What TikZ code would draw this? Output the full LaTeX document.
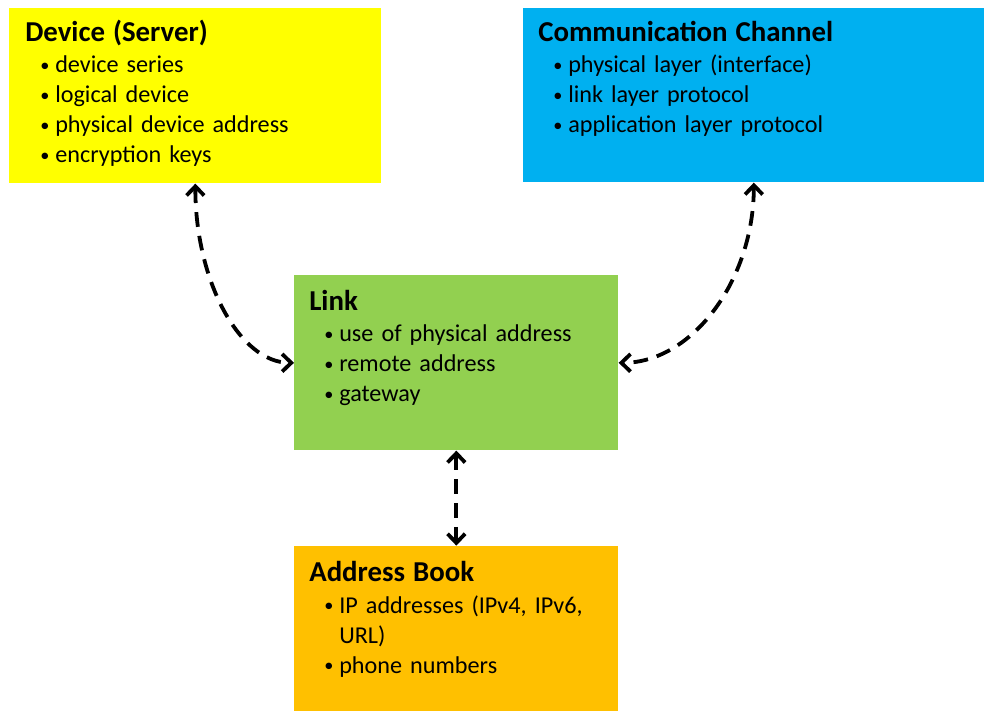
\documentclass[tikz,border=0pt]{standalone}
\usepackage{fontspec}
\setmainfont{Carlito}
\usetikzlibrary{arrows.meta,positioning}
\definecolor{devyellow}{RGB}{255,255,0}
\definecolor{chanblue}{RGB}{0,176,240}
\definecolor{linkgreen}{RGB}{146,208,80}
\definecolor{bookorange}{RGB}{255,192,0}
\newcommand{\boxtitle}[1]{{\fontsize{20.5}{21.3}\selectfont\bfseries #1}\par\vspace{1.4pt}}
\newcommand{\bitem}{\par\hangindent=0.75cm\hangafter=1\noindent\hspace*{0.375cm}%
    \makebox[0.375cm][l]{\raisebox{0.15ex}{\fontsize{13}{13}\selectfont\textbullet}}}

\begin{document}
\begin{tikzpicture}[
    x=0.025cm, y=-0.025cm,
    panel/.style={rectangle, inner sep=0pt, anchor=north west, minimum height=4.375cm},
    paneltext/.style={anchor=base west, inner sep=0pt, align=left,
        font=\fontsize{17.2}{21.3}\selectfont},
    dasharrow/.style={<->, line width=2.7pt, dash pattern=on 10.5pt off 6.5pt},
    >={Straight Barb[length=6.5pt,width=12.5pt]}
]
\useasboundingbox (0,0) rectangle (985,711);

% boxes
\node[panel, fill=devyellow, minimum width=9.3cm] (dev) at (9,8) {};
\node[panel, fill=chanblue, minimum width=11.525cm, minimum height=4.35cm] (chan) at (523,8) {};
\node[panel, fill=linkgreen, minimum width=8.1cm] (link) at (294,275) {};
\node[panel, fill=bookorange, minimum width=8.1cm, minimum height=4.125cm,
      anchor=north, below=2.375cm of link] (book) {};

% box contents
\node[paneltext, text width=8.55cm] (devtxt) at ([shift={(16,33)}]dev.north west)
    {\boxtitle{Device (Server)}\bitem device series\bitem logical device
     \bitem physical device address\bitem encryption keys};
\node[paneltext, text width=10.8cm] (chantxt) at ([shift={(15,33)}]chan.north west)
    {\boxtitle{Communication Channel}\bitem physical layer (interface)
     \bitem link layer protocol\bitem application layer protocol};
\node[paneltext, text width=7.35cm] (linktxt) at ([shift={(15,35)}]link.north west)
    {\boxtitle{Link}\bitem use of physical address\bitem remote address\bitem gateway};
\node[paneltext, text width=7.35cm] (booktxt) at ([shift={(15,36)}]book.north west)
    {\boxtitle{Address Book}\bitem IP addresses (IPv4, IPv6, URL)\bitem phone numbers};

% connectors
\draw[dasharrow] (dev.south) .. controls +(0,98) and +(-54,0) .. (link.west);
\draw[dasharrow] (chan.south) .. controls +(0,98) and +(73,0) .. (link.east);
\draw[dasharrow] (link.south) -- (book.north);
\end{tikzpicture}
\end{document}
